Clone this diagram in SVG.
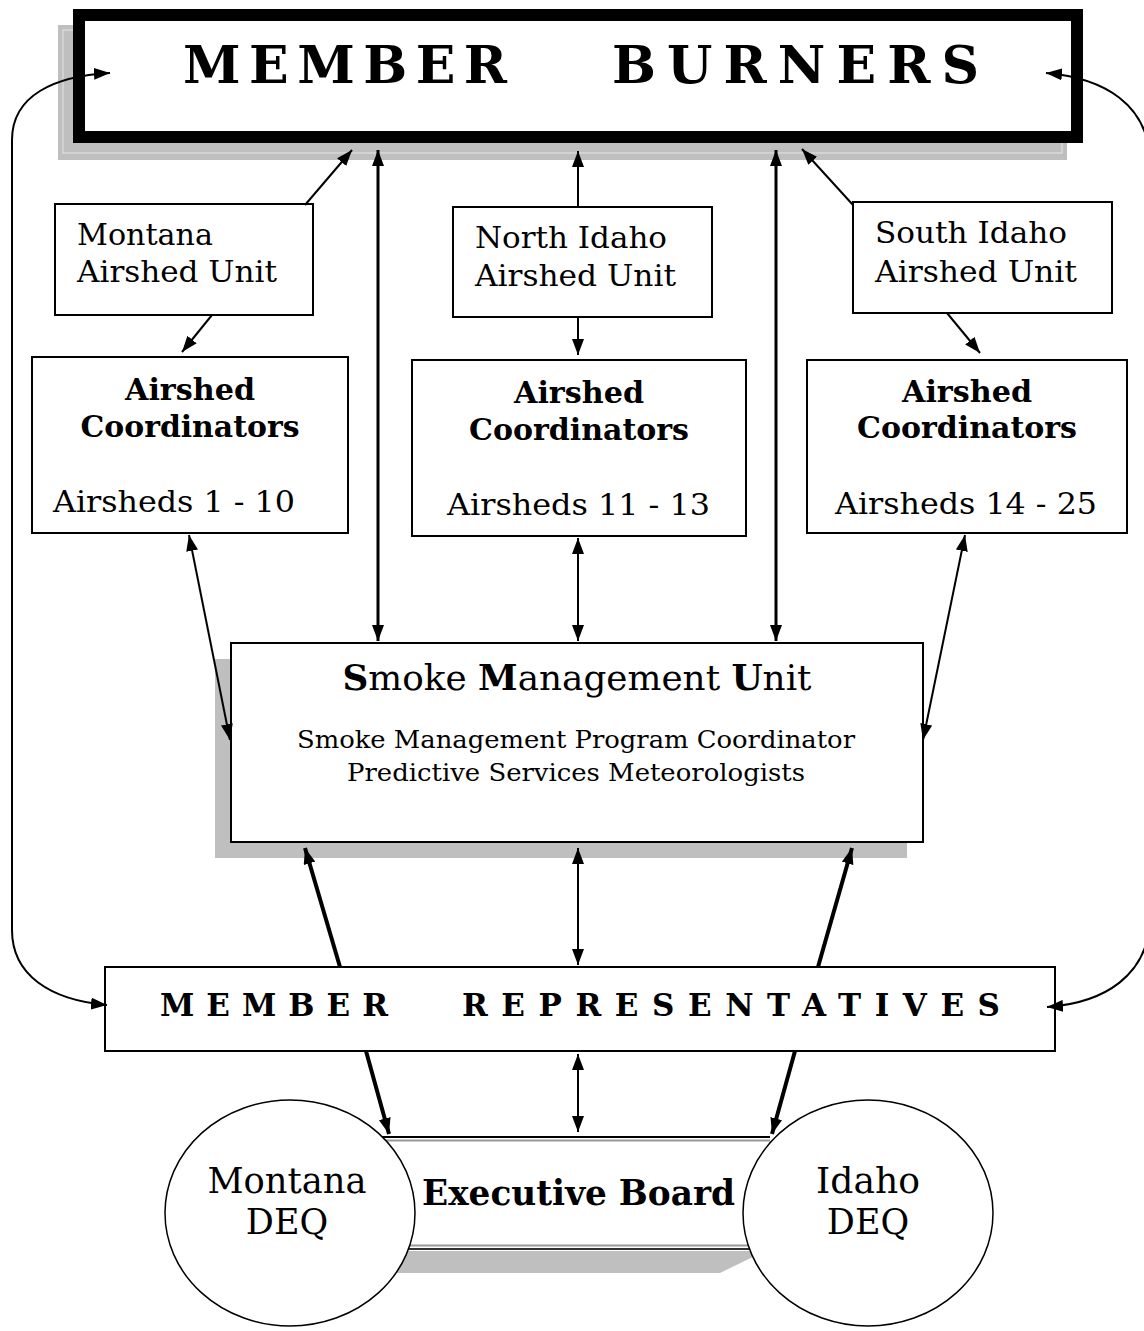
<svg xmlns="http://www.w3.org/2000/svg" width="1144" height="1331" viewBox="0 0 1144 1331">
<defs>
<style>
.box{fill:#fff;stroke:#000;stroke-width:2}
.t{font-family:"DejaVu Serif","Liberation Serif",serif;fill:#000}
.b{font-weight:bold}
.c{fill:none;stroke:#000;stroke-width:2}
.k{stroke-width:3}
.kk{stroke-width:4}
.a{marker-end:url(#ah)}
.aa{marker-start:url(#ah);marker-end:url(#ah)}
</style>
<marker id="ah" markerUnits="userSpaceOnUse" markerWidth="16" markerHeight="12" viewBox="0 0 16 12" refX="16" refY="6" orient="auto-start-reverse">
<path d="M0,0 L16,6 L0,12 z" fill="#000"/>
</marker>
</defs>
<rect width="1144" height="1331" fill="#fff"/>

<g id="member-burners">
<rect x="58" y="25" width="1009" height="135" fill="#bfbfbf"/>
<rect x="63" y="30" width="999" height="123" fill="none" stroke="#e6e6e6" stroke-width="1"/>
<rect x="79" y="15" width="998" height="122" fill="#fff" stroke="#000" stroke-width="12"/>
<text class="t b" x="183" y="83" font-size="52" textLength="324" lengthAdjust="spacing">MEMBER</text>
<text class="t b" x="612" y="83" font-size="52" textLength="367" lengthAdjust="spacing">BURNERS</text>
</g>

<g id="montana-unit">
<rect class="box" x="55" y="204" width="258" height="111"/>
<text class="t" font-size="30"><tspan x="77" y="245" textLength="136" lengthAdjust="spacingAndGlyphs">Montana</tspan><tspan x="77" y="282" textLength="200" lengthAdjust="spacingAndGlyphs">Airshed Unit</tspan></text>
</g>
<g id="north-idaho-unit">
<rect class="box" x="453" y="207" width="259" height="110"/>
<text class="t" font-size="30"><tspan x="475" y="248" textLength="192" lengthAdjust="spacingAndGlyphs">North Idaho</tspan><tspan x="475" y="286" textLength="201" lengthAdjust="spacingAndGlyphs">Airshed Unit</tspan></text>
</g>
<g id="south-idaho-unit">
<rect class="box" x="853" y="202" width="259" height="111"/>
<text class="t" font-size="30"><tspan x="875" y="243" textLength="192" lengthAdjust="spacingAndGlyphs">South Idaho</tspan><tspan x="875" y="282" textLength="202" lengthAdjust="spacingAndGlyphs">Airshed Unit</tspan></text>
</g>

<g id="coord-1">
<rect class="box" x="32" y="357" width="316" height="176"/>
<text class="t b" font-size="30" text-anchor="middle"><tspan x="190" y="400" textLength="130" lengthAdjust="spacingAndGlyphs">Airshed</tspan><tspan x="190" y="437" textLength="219" lengthAdjust="spacingAndGlyphs">Coordinators</tspan></text>
<text class="t" font-size="30" x="53" y="512" textLength="242" lengthAdjust="spacingAndGlyphs">Airsheds 1 - 10</text>
</g>
<g id="coord-2">
<rect class="box" x="412" y="360" width="334" height="176"/>
<text class="t b" font-size="30" text-anchor="middle"><tspan x="579" y="403" textLength="130" lengthAdjust="spacingAndGlyphs">Airshed</tspan><tspan x="579" y="440" textLength="220" lengthAdjust="spacingAndGlyphs">Coordinators</tspan></text>
<text class="t" font-size="30" x="447" y="515" textLength="263" lengthAdjust="spacingAndGlyphs">Airsheds 11 - 13</text>
</g>
<g id="coord-3">
<rect class="box" x="807" y="360" width="320" height="173"/>
<text class="t b" font-size="30" text-anchor="middle"><tspan x="967" y="402" textLength="130" lengthAdjust="spacingAndGlyphs">Airshed</tspan><tspan x="967" y="438" textLength="220" lengthAdjust="spacingAndGlyphs">Coordinators</tspan></text>
<text class="t" font-size="30" x="835" y="514" textLength="262" lengthAdjust="spacingAndGlyphs">Airsheds 14 - 25</text>
</g>

<g id="smoke-management-unit">
<rect x="215" y="659" width="692" height="199" fill="#bfbfbf"/>
<rect class="box" x="231" y="643" width="692" height="199"/>
<text class="t" font-size="36" x="577" y="690" text-anchor="middle" textLength="469" lengthAdjust="spacingAndGlyphs"><tspan class="b">S</tspan>moke <tspan class="b">M</tspan>anagement <tspan class="b">U</tspan>nit</text>
<text class="t" font-size="24" text-anchor="middle"><tspan x="576" y="748" textLength="558" lengthAdjust="spacingAndGlyphs">Smoke Management Program Coordinator</tspan><tspan x="576" y="781" textLength="458" lengthAdjust="spacingAndGlyphs">Predictive Services Meteorologists</tspan></text>
</g>

<g id="member-representatives">
<rect class="box" x="105" y="967" width="950" height="84"/>
<text class="t b" x="160" y="1016" font-size="31" textLength="228" lengthAdjust="spacing">MEMBER</text>
<text class="t b" x="462" y="1016" font-size="31" textLength="538" lengthAdjust="spacing">REPRESENTATIVES</text>
</g>

<g id="executive-board">
<polygon points="395,1251 765,1251 720,1273 395,1273" fill="#bfbfbf"/>
<rect x="380" y="1137" width="390" height="112" fill="#fff"/>
<line x1="380" y1="1137" x2="770" y2="1137" stroke="#000" stroke-width="2"/>
<line x1="380" y1="1140.5" x2="770" y2="1140.5" stroke="#999" stroke-width="2"/>
<line x1="380" y1="1245.5" x2="770" y2="1245.5" stroke="#999" stroke-width="2"/>
<line x1="380" y1="1249" x2="770" y2="1249" stroke="#333" stroke-width="2"/>
<text class="t b" x="422" y="1205" font-size="36" textLength="313" lengthAdjust="spacingAndGlyphs">Executive Board</text>
</g>

<g id="montana-deq">
<ellipse cx="290" cy="1213" rx="125" ry="113" fill="#fff" stroke="#000" stroke-width="1.5"/>
<text class="t" font-size="35" text-anchor="middle"><tspan x="287" y="1193" textLength="159" lengthAdjust="spacingAndGlyphs">Montana</tspan><tspan x="287" y="1234">DEQ</tspan></text>
</g>
<g id="idaho-deq">
<ellipse cx="868" cy="1213" rx="125" ry="113" fill="#fff" stroke="#000" stroke-width="1.5"/>
<text class="t" font-size="35" text-anchor="middle"><tspan x="868" y="1193" textLength="104" lengthAdjust="spacingAndGlyphs">Idaho</tspan><tspan x="868" y="1234">DEQ</tspan></text>
</g>

<g id="connectors">
<path class="c aa" d="M110,73 C55,76 12,95 12,140 L12,930 C12,975 50,1000 107,1005"/>
<path class="c aa" d="M1046,73 C1105,78 1148,105 1150,160 L1150,920 C1148,975 1105,1003 1047,1007"/>
<line class="c a" x1="305" y1="205" x2="352" y2="150"/>
<line class="c k aa" x1="378" y1="150" x2="378" y2="641"/>
<line class="c a" x1="578" y1="207" x2="578" y2="151"/>
<line class="c k aa" x1="776" y1="150" x2="776" y2="641"/>
<line class="c a" x1="853" y1="205" x2="802" y2="149"/>
<line class="c a" x1="212" y1="315" x2="182" y2="352"/>
<line class="c a" x1="578" y1="317" x2="578" y2="355"/>
<line class="c a" x1="947" y1="313" x2="980" y2="353"/>
<line class="c aa" x1="189" y1="535" x2="230" y2="740"/>
<line class="c aa" x1="578" y1="538" x2="578" y2="641"/>
<line class="c aa" x1="965" y1="535" x2="923" y2="740"/>
<line class="c kk a" x1="340" y1="967" x2="305" y2="848"/>
<line class="c aa" x1="578" y1="848" x2="578" y2="965"/>
<line class="c kk a" x1="818" y1="967" x2="852" y2="848"/>
<line class="c kk a" x1="366" y1="1051" x2="389" y2="1134"/>
<line class="c aa" x1="578" y1="1054" x2="578" y2="1132"/>
<line class="c kk a" x1="795" y1="1051" x2="772" y2="1134"/>
</g>
</svg>
